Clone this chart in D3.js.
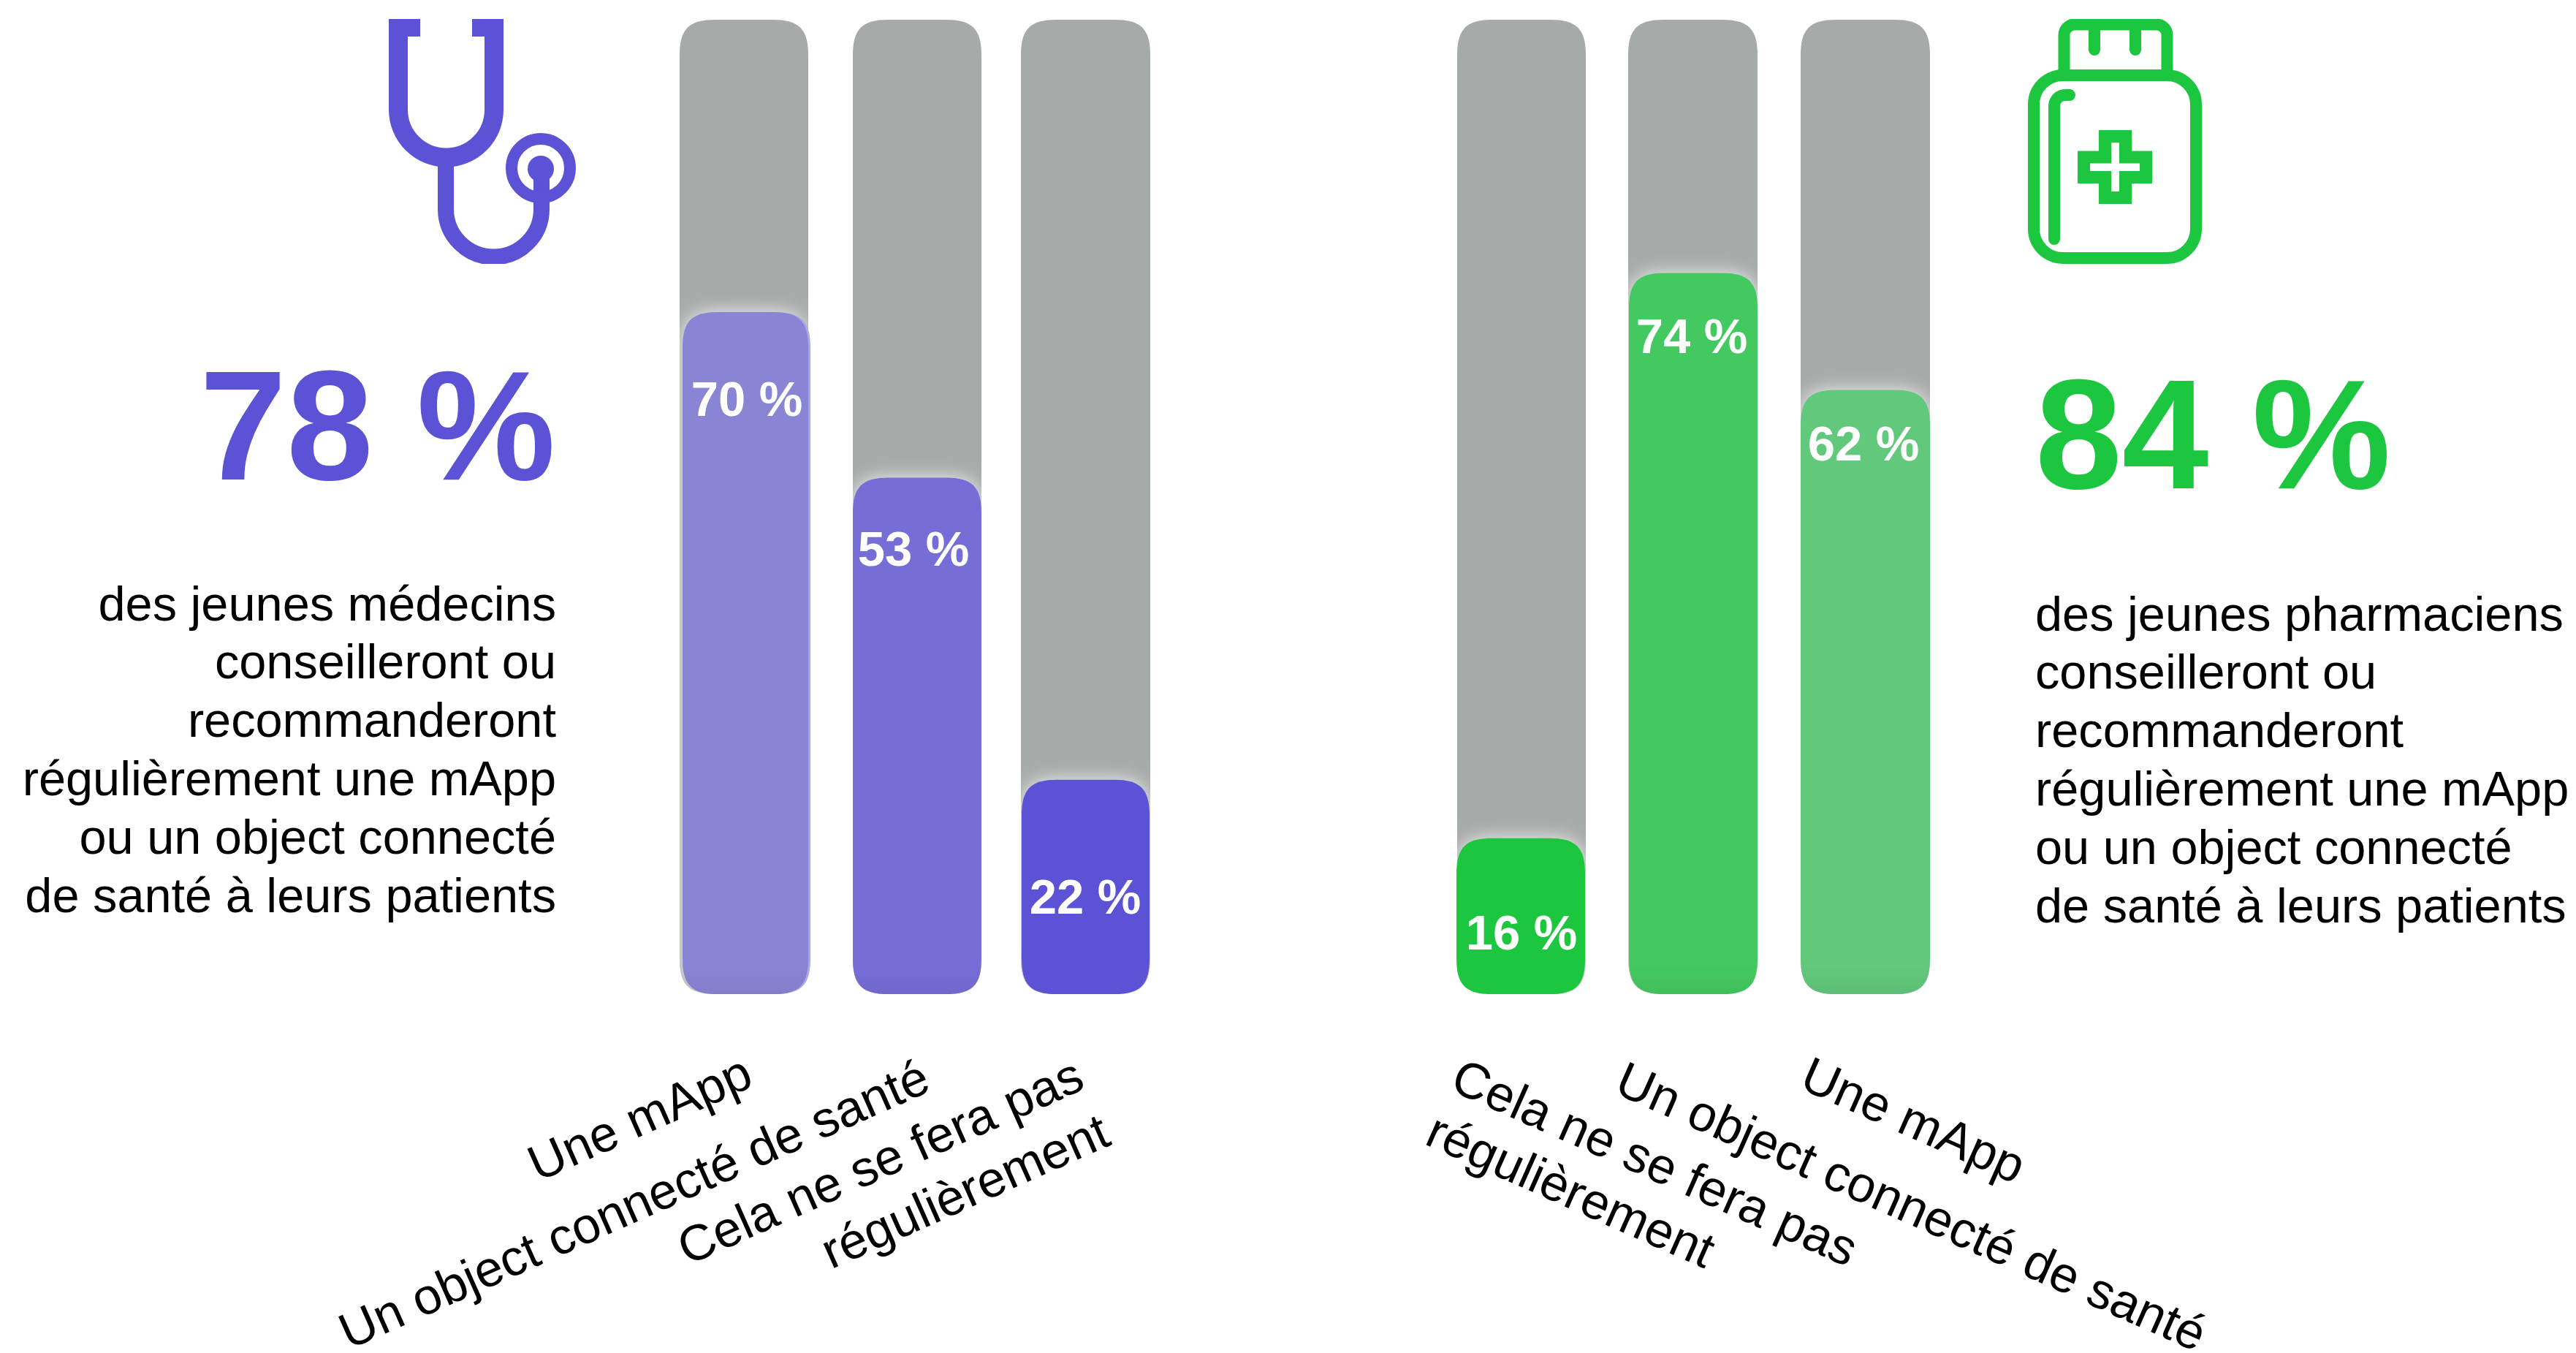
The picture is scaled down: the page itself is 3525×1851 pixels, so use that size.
<!DOCTYPE html>
<html><head><meta charset="utf-8">
<script src="https://cdn.jsdelivr.net/npm/d3@7"></script>
<style>html,body{margin:0;padding:0;background:#fff}svg{display:block}text{font-family:"Liberation Sans",Arial,sans-serif}</style>
</head><body>
<script>
// DATA
const categoriesDoctors = ["Une mApp", "Un object connecté de santé", "Cela ne se fera pas régulièrement"];
const valuesDoctors = [70, 53, 22];
const categoriesPharmacists = ["Cela ne se fera pas régulièrement", "Un object connecté de santé", "Une mApp"];
const valuesPharmacists = [16, 74, 62];
const headlineDoctors = "78 %";
const headlinePharmacists = "84 %";
const paragraphDoctors = ["des jeunes médecins","conseilleront ou","recommanderont","régulièrement une mApp","ou un object connecté","de santé à leurs patients"];
const paragraphPharmacists = ["des jeunes pharmaciens","conseilleront ou","recommanderont","régulièrement une mApp","ou un object connecté","de santé à leurs patients"];
const labelsDoctors = [["Une mApp"],["Un object connecté de santé"],["Cela ne se fera pas","régulièrement"]];
const labelsPharmacists = [["Cela ne se fera pas","régulièrement"],["Un object connecté de santé"],["Une mApp"]];

// LAYOUT
const W = 3525, H = 1851;
const PURPLE = "#5b52d6", GREEN = "#1dc63f", GRAY = "#a6aaa8";
const svg = d3.select("body").append("svg").attr("width", W).attr("height", H).attr("viewBox", `0 0 ${W} ${H}`);
svg.append("rect").attr("width", W).attr("height", H).attr("fill", "#fff");
const defs = svg.append("defs");
defs.append("filter").attr("id","glow").attr("x","-40%").attr("y","-40%").attr("width","180%").attr("height","180%")
  .append("feGaussianBlur").attr("stdDeviation", 13);
const shade = defs.append("linearGradient").attr("id","shade").attr("x1",0).attr("y1",0).attr("x2",0).attr("y2",1);
shade.append("stop").attr("offset",0).attr("stop-color","#000").attr("stop-opacity",0);
shade.append("stop").attr("offset",1).attr("stop-color","#000").attr("stop-opacity",0.05);

const y = d3.scaleLinear().domain([0, 100]).range([1360, 27]);

function squircle(x0, y0, w, h, r) {
  const p = d3.path(), a = 1.35 * r, b = 0.35 * r, x1 = x0 + w, y1 = y0 + h;
  p.moveTo(x0 + a, y0); p.lineTo(x1 - a, y0);
  p.bezierCurveTo(x1 - b, y0, x1, y0 + b, x1, y0 + a);
  p.lineTo(x1, y1 - a);
  p.bezierCurveTo(x1, y1 - b, x1 - b, y1, x1 - a, y1);
  p.lineTo(x0 + a, y1);
  p.bezierCurveTo(x0 + b, y1, x0, y1 - b, x0, y1 - a);
  p.lineTo(x0, y0 + a);
  p.bezierCurveTo(x0, y0 + b, x0 + b, y0, x0 + a, y0);
  p.closePath();
  return p.toString();
}

function panel(id, cats, vals, cfg) {
  const trackX = d3.scaleOrdinal().domain(cats).range(cfg.trackX);
  const barX = d3.scaleOrdinal().domain(cats).range(cfg.barX);
  const g = svg.append("g").attr("id", id);
  cats.forEach((c, i) => {
    const track = squircle(trackX(c), y(100), cfg.trackW[i], y(0) - y(100), 36);
    const clipId = `${id}-clip-${i}`, barClip = `${id}-bar-${i}`;
    defs.append("clipPath").attr("id", clipId).append("path").attr("d", track);
    g.append("path").attr("d", track).attr("fill", GRAY);
    const bar = squircle(barX(c), y(vals[i]), cfg.barW[i], y(0) - y(vals[i]), 36);
    defs.append("clipPath").attr("id", barClip).append("path").attr("d", bar);
    g.append("g").attr("clip-path", `url(#${clipId})`)
      .append("path").attr("d", bar).attr("fill", "#fff").attr("opacity", 0.85).attr("filter", "url(#glow)");
    if (cfg.edge[i]) {
      g.append("path").attr("d", squircle(barX(c), y(vals[i]), cfg.barW[i] + cfg.edgeW, y(0) - y(vals[i]), 36)).attr("fill", cfg.edge[i]);
    }
    g.append("path").attr("d", bar).attr("fill", cfg.colors[i]);
    if (cfg.shaded[i]) {
      g.append("rect").attr("clip-path", `url(#${barClip})`)
        .attr("x", barX(c)).attr("y", y(0) - 40).attr("width", cfg.barW[i]).attr("height", 40).attr("fill", "url(#shade)");
    }
    g.append("text").attr("x", cfg.labelX[i]).attr("y", y(vals[i]) + cfg.labelDy[i])
      .attr("text-anchor", "middle").attr("font-size", 67).attr("font-weight", 700).attr("fill", "#fff")
      .text(vals[i] + " %");
  });
}

panel("doctors", categoriesDoctors, valuesDoctors, {
  trackX: [930, 1167, 1397], trackW: [176, 176, 177],
  barX: [934, 1167, 1398], barW: [172, 176, 175],
  colors: ["#8a84d4", "#766dd7", PURPLE], shaded: [true, true, false],
  edge: ["#a9a6ea", null, null], edgeW: 3,
  labelX: [1022, 1250, 1485], labelDy: [142, 120, 183]
});
panel("pharmacists", categoriesPharmacists, valuesPharmacists, {
  trackX: [1994, 2228, 2464], trackW: [176, 177, 177],
  barX: [1993, 2229, 2464], barW: [176, 176, 177],
  colors: [GREEN, "#43c95f", "#62c87c"], shaded: [false, true, true],
  edge: [null, null, null], edgeW: 0,
  labelX: [2082, 2315, 2550], labelDy: [152, 109, 96]
});

// Headlines
svg.append("text").attr("x", 760).attr("y", 656).attr("text-anchor","end").attr("font-size",213.5).attr("font-weight",700).attr("fill",PURPLE).text(headlineDoctors);
svg.append("text").attr("x", 2785).attr("y", 668).attr("font-size",213.5).attr("font-weight",700).attr("fill",GREEN).text(headlinePharmacists);

// Paragraphs
const lineY = d3.scaleLinear().domain([0, 1]).range([0, 79.8]);
svg.append("g").selectAll("text").data(paragraphDoctors).join("text")
  .attr("x", 761).attr("y", (d,i) => 848.5 + lineY(i)).attr("text-anchor","end").attr("font-size",66.7).attr("fill","#000").text(d => d);
svg.append("g").selectAll("text").data(paragraphPharmacists).join("text")
  .attr("x", 2785).attr("y", (d,i) => 862.5 + lineY(i)).attr("font-size",66.7).attr("fill","#000").text(d => d);

// Rotated category labels
function rotLabels(items, angle) {
  items.forEach(it => {
    svg.append("text").attr("text-anchor","middle").attr("font-size",69).attr("fill","#000")
      .attr("transform", `translate(${it.x},${it.y}) rotate(${angle})`).text(it.t);
  });
}
rotLabels([
  {t: labelsDoctors[0][0], x: 885, y: 1551},
  {t: labelsDoctors[1][0], x: 877, y: 1669},
  {t: labelsDoctors[2][0], x: 1214, y: 1610},
  {t: labelsDoctors[2][1], x: 1330, y: 1651}
], -24);
rotLabels([
  {t: labelsPharmacists[2][0], x: 2609, y: 1554},
  {t: labelsPharmacists[1][0], x: 2606, y: 1672},
  {t: labelsPharmacists[0][0], x: 2255, y: 1612},
  {t: labelsPharmacists[0][1], x: 2140, y: 1650}
], 24);

// Icons
defs.append("clipPath").attr("id","iconClip").append("rect").attr("x",0).attr("y",26).attr("width",W).attr("height",335);
const steth = svg.append("g").attr("clip-path","url(#iconClip)").attr("fill","none").attr("stroke",PURPLE);
function arcPath(fn){const p=d3.path();fn(p);return p.toString();}
steth.append("path").attr("stroke-width",26).attr("d",arcPath(p=>{p.moveTo(545,20);p.lineTo(545,150);p.arc(610.5,150,65.5,Math.PI,0,true);p.lineTo(676,20);}));
steth.append("path").attr("stroke-width",22).attr("d",arcPath(p=>{p.moveTo(610,216);p.lineTo(610,286);p.arc(675.5,286,65.5,Math.PI,0,true);p.lineTo(741,231);}));
steth.append("circle").attr("cx",740).attr("cy",230).attr("r",40).attr("stroke-width",16);
steth.append("circle").attr("cx",740).attr("cy",231).attr("r",18).attr("fill",PURPLE).attr("stroke","none");
steth.append("rect").attr("x",532).attr("y",20).attr("width",43).attr("height",30).attr("fill",PURPLE).attr("stroke","none");
steth.append("rect").attr("x",646).attr("y",20).attr("width",42).attr("height",30).attr("fill",PURPLE).attr("stroke","none");

const bottle = svg.append("g").attr("clip-path","url(#iconClip)").attr("fill","none").attr("stroke",GREEN).attr("stroke-width",16);
bottle.append("rect").attr("x",2783).attr("y",103).attr("width",222).attr("height",250).attr("rx",40).attr("ry",40);
bottle.append("path").attr("d",arcPath(p=>{p.moveTo(2824.5,103);p.lineTo(2824.5,48);p.arcTo(2824.5,33.5,2839,33.5,14.5);p.lineTo(2951,33.5);p.arcTo(2965.5,33.5,2965.5,48,14.5);p.lineTo(2965.5,103);}));
bottle.append("path").attr("stroke-linecap","round").attr("d",arcPath(p=>{p.moveTo(2866,33);p.lineTo(2866,68);p.moveTo(2922,33);p.lineTo(2922,68);p.moveTo(2811,327);p.lineTo(2811,145);p.arcTo(2811,130,2826,130,15);p.lineTo(2832,130);}));
bottle.append("path").attr("stroke-width",17).attr("d",arcPath(p=>{
  [[2880.5,186.5],[2908.5,186.5],[2908.5,215],[2936.5,215],[2936.5,242.5],[2908.5,242.5],[2908.5,270.5],[2880.5,270.5],[2880.5,242.5],[2851.5,242.5],[2851.5,215],[2880.5,215]]
    .forEach((q,i)=>i?p.lineTo(q[0],q[1]):p.moveTo(q[0],q[1]));p.closePath();}));
</script>
</body></html>
